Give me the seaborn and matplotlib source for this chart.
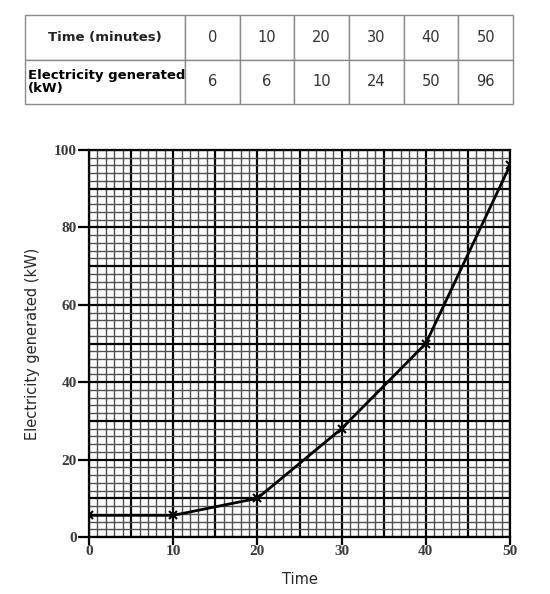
import matplotlib
matplotlib.use("Agg")
import matplotlib.pyplot as plt
import seaborn as sns
import pandas as pd
from matplotlib.ticker import MultipleLocator

# table values
table_times = [0, 10, 20, 30, 40, 50]
table_power = [6, 6, 10, 24, 50, 96]

# values as drawn on the graph paper
plot_times = [0, 10, 20, 30, 40, 50]
plot_power = [5.6, 5.6, 10, 28, 50, 96]

sns.set_style("white")
plt.rcParams['font.family'] = ['DejaVu Sans']

fig = plt.figure(figsize=(5.5, 5.94), dpi=100)

# ---- table at top
tax = fig.add_axes([25/550, 1 - 104/594, 488/550, 89/594])
tax.axis('off')
cells = [["Time (minutes)"] + [str(t) for t in table_times],
         ["Electricity generated\n(kW)"] + [str(p) for p in table_power]]
widths = [160] + [54.7] * 6
tbl = tax.table(cellText=cells, bbox=[0, 0, 1, 1], colWidths=[w / sum(widths) for w in widths],
                cellLoc='center')
tbl.auto_set_font_size(False)
for (r, c), cell in tbl.get_celld().items():
    cell.set_edgecolor('#8a8a8a')
    cell.set_linewidth(1.0)
    txt = cell.get_text()
    txt.set_fontsize(10.5)
    txt.set_color('#333333')
    if c == 0:
        txt.set_fontsize(9.5)
        txt.set_fontweight('bold')
        txt.set_color('#222222')
        if r == 1:
            cell._loc = 'left'
            cell.PAD = 0.02
            txt.set_ha('left')
            txt.set_multialignment('left')
            txt.set_color('black')
            txt.set_linespacing(1.05)

# ---- graph
ax = fig.add_axes([89/550, 1 - 537/594, 421/550, 387/594])
df = pd.DataFrame({"Time": plot_times, "Electricity generated (kW)": plot_power})
sns.lineplot(data=df, x="Time", y="Electricity generated (kW)", ax=ax, color='black',
             linewidth=2.0, marker='x', markersize=6, markeredgewidth=1.5, markeredgecolor='black',
             zorder=5)

ax.set_xlim(0, 50)
ax.set_ylim(0, 100)
ax.xaxis.set_major_locator(MultipleLocator(10))
ax.yaxis.set_major_locator(MultipleLocator(20))
ax.xaxis.set_minor_locator(MultipleLocator(1))
ax.yaxis.set_minor_locator(MultipleLocator(2))

# graph paper lines
for v in range(0, 51):
    major = v % 5 == 0
    ax.axvline(v, color='black' if major else '#505050', lw=1.6 if major else 1.0, zorder=1)
for v in range(0, 101, 2):
    major = v % 10 == 0
    ax.axhline(v, color='black' if major else '#505050', lw=1.6 if major else 1.0, zorder=1)

for s in ax.spines.values():
    s.set_color('black')
    s.set_linewidth(1.6)

ax.tick_params(axis='both', which='minor', length=0)
ax.tick_params(axis='y', which='major', left=True, length=8, width=1.6, color='black', pad=1)
ax.tick_params(axis='x', which='major', bottom=True, length=6, width=1.6, color='black', pad=0)
for lab in ax.get_xticklabels() + ax.get_yticklabels():
    lab.set_family('Liberation Serif')
    lab.set_fontsize(11)
    lab.set_fontweight('bold')
    lab.set_color('#3a3a3a')

ax.set_xlabel("Time", fontsize=10.5, labelpad=10)
ax.set_ylabel("Electricity generated (kW)", fontsize=10.5, labelpad=10)

fig.savefig("out.png", dpi=100)
